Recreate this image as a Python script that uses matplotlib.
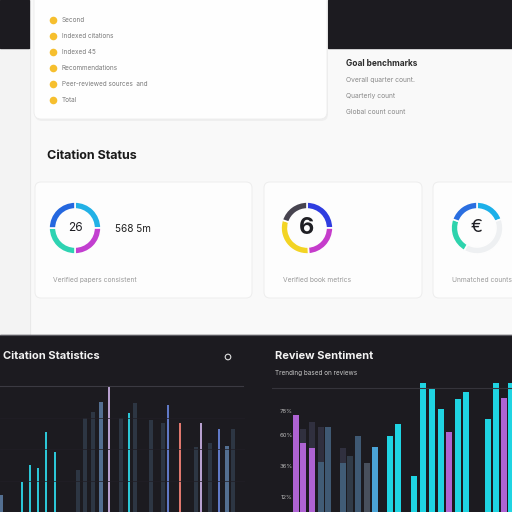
import matplotlib
matplotlib.use("Agg")
import matplotlib.pyplot as plt
from matplotlib.patches import FancyBboxPatch, Rectangle, Circle

plt.rcParams['font.family'] = ['Inter', 'DejaVu Sans']

# ---------------- data ----------------
top_items = ["Second", "Indexed citations", "Indexed 45", "Recommendations",
             "Peer-reviewed sources  and", "Total"]
goal_title = "Goal benchmarks"
goal_lines = ["Overall quarter count.", "Quarterly count", "Global count count"]

section_title = "Citation Status"

donut1_vals = [25, 25, 25, 25]
donut1_cols = ["#22b1e6", "#c23fd0", "#2ed3b2", "#2467df"]
donut1_center = "26"
donut1_side = "568 5m"
donut1_caption = "Verified papers consistent"

donut2_vals = [25, 24, 31, 20]
donut2_cols = ["#2f3de0", "#c53ccb", "#f3d424", "#47444f"]
donut2_center = "6"
donut2_caption = "Verified book metrics"

donut3_vals = [19.4, 38.9, 22.2, 19.5]
donut3_cols = ["#1cb0e9", "#eef0f2", "#2ed3ad", "#2a6ee0"]
donut3_center = "€"
donut3_caption = "Unmatched counts"

left_title = "Citation Statistics"
left_x = [1, 22, 30, 38, 46, 55, 78, 85, 93, 101, 109, 121, 129, 135, 151,
          163, 168, 180, 196, 201, 210, 219, 227, 233]
left_h = [13.5, 24, 37, 35, 63.5, 47.6, 33, 74.6, 79, 87, 100.8, 74.6, 78.6,
          86.5, 73, 70.6, 85, 70.6, 51.6, 70.6, 54.8, 65.9, 52, 66]
left_kind = ["steel", "cyan", "cyan", "cyan", "cyan", "cyan", "faint", "faint",
             "faint", "steel", "lav", "faint", "cyan", "faint", "faint", "faint",
             "blue", "salmon", "faint", "lav", "faint", "blue", "steel", "faint"]

right_title = "Review Sentiment"
right_sub = "Trending based on reviews"
right_x = [296, 303, 312, 321, 328, 343, 350, 358, 367, 375, 390, 398, 414,
           423, 432, 441, 449, 458, 466, 488, 496, 504, 511]
right_h = [75.2, 53.5, 49.6, 38.8, 65.9, 38, 43.4, 59, 38, 50.4, 59, 68.2,
           27.9, 100, 95.3, 79.8, 62, 87.6, 93, 72, 100, 88.4, 100]
right_kind = ["purple", "purple", "purple", "steel", "steel", "steel", "faint",
              "steel", "gray", "lblue", "cyan", "cyan", "cyan", "cyan", "cyan",
              "cyan", "purple", "cyan", "cyan", "cyan", "cyan", "purple", "cyan"]
ghost_x = [303, 312, 321, 343]
ghost_h = [64.3, 69.8, 66, 50]
right_ticks = [78, 60, 36, 12]

# ---------------- figure ----------------
W = H = 512
fig = plt.figure(figsize=(5.12, 5.12), dpi=100)
fig.patch.set_facecolor("#f9f9f9")
bg = fig.add_axes([0, 0, 1, 1])
bg.set_xlim(0, W)
bg.set_ylim(H, 0)
bg.axis("off")

DARK = "#1c1b20"
# top dark bands
bg.add_patch(Rectangle((0, 0), 29, 48, color=DARK, zorder=1))
bg.add_patch(Rectangle((328, 0), 184, 48, color=DARK, zorder=1))
# left light strip
bg.add_patch(Rectangle((0, 48), 30, 287, color="#f3f3f3", zorder=0.5))
bg.plot([30, 30], [48, 335], color="#e8e8e8", lw=0.6, zorder=0.6)

# top card (with shadow)
bg.add_patch(FancyBboxPatch((35, -10), 293, 131, boxstyle="round,pad=0,rounding_size=7",
                            fc="#e9e9e9", ec="none", zorder=1.5, alpha=0.6))
bg.add_patch(FancyBboxPatch((34, -12), 293, 131, boxstyle="round,pad=0,rounding_size=7",
                            fc="#fefefe", ec="#ececec", lw=0.6, zorder=2))
for i, lab in enumerate(top_items):
    yy = 20 + i * 16
    bg.scatter([53], [yy], s=30, color="#f6bf2e", zorder=3, linewidths=0)
    bg.text(62, yy, lab, fontsize=4.6, color="#7a7a7a", va="center", ha="left", zorder=3)

bg.text(346, 63, goal_title, fontsize=6, color="#2b2b2b", fontweight="bold", va="center", zorder=3)
for i, lab in enumerate(goal_lines):
    bg.text(346, 80 + i * 16, lab, fontsize=4.8, color="#8a8a8a", va="center", zorder=3)

bg.text(47, 156, section_title, fontsize=9, color="#1a1a1a", fontweight="bold", va="center", zorder=3)

# cards
for (x0, x1) in [(35, 252), (264, 422), (433, 530)]:
    bg.add_patch(FancyBboxPatch((x0, 182), x1 - x0, 116, boxstyle="round,pad=0,rounding_size=6",
                                fc="#fdfdfd", ec="#ededed", lw=0.7, zorder=2))
bg.text(115, 229, donut1_side, fontsize=7.2, color="#222222", va="center", zorder=3)
bg.text(53, 280, donut1_caption, fontsize=4.8, color="#9a9a9a", va="center", zorder=3)
bg.text(283, 280, donut2_caption, fontsize=4.8, color="#9a9a9a", va="center", zorder=3)
bg.text(452, 280, donut3_caption, fontsize=4.8, color="#9a9a9a", va="center", zorder=3)

# bottom dark region
bg.add_patch(Rectangle((0, 335), 512, 177, color=DARK, zorder=1))
bg.plot([0, 512], [335, 335], color="#5a5960", lw=0.8, zorder=1.2)
bg.text(3, 356, left_title, fontsize=8, color="#f2f2f2", fontweight="bold",
        va="center", ha="left", zorder=3)
bg.add_patch(Circle((228, 357), 2.8, fc="none", ec="#dddddd", lw=0.8, zorder=3))
bg.text(275, 356, right_title, fontsize=8, color="#f2f2f2", fontweight="bold", va="center", zorder=3)
bg.text(275, 373, right_sub, fontsize=4.6, color="#c8c8c8", va="center", zorder=3)


def px_axes(x0, y0, x1, y1):
    """axes occupying pixel box (x0,y0)-(x1,y1), y measured from top"""
    return fig.add_axes([x0 / W, (H - y1) / H, (x1 - x0) / W, (y1 - y0) / H])


def donut(cx, cy, r, vals, cols, center, csize, cweight="normal"):
    ax = px_axes(cx - r, cy - r, cx + r, cy + r)
    ax.pie(vals, colors=cols, startangle=90, counterclock=False, radius=1,
           wedgeprops=dict(width=0.27, edgecolor="#fdfdfd", linewidth=1.2))
    ax.set_xlim(-1, 1)
    ax.set_ylim(-1, 1)
    ax.text(0, 0, center, ha="center", va="center", fontsize=csize,
            color="#1f1f24", fontweight=cweight)
    return ax


donut(75, 228, 26, donut1_vals, donut1_cols, donut1_center, 8.5)
donut(307, 228, 26, donut2_vals, donut2_cols, donut2_center, 17, "bold")
donut(477, 228, 26, donut3_vals, donut3_cols, donut3_center, 13)

# left bar chart
cmap_left = {"cyan": ("#2cc6d6", 1.0), "faint": ("#3e5266", 0.5), "steel": ("#5d7fa6", 0.85),
             "lav": ("#b7a0cf", 1.0), "blue": ("#6079c6", 1.0), "salmon": ("#e0786e", 1.0)}
axl = px_axes(0, 386, 245, 512)
axl.set_xlim(0, 245)
axl.set_ylim(0, 100)
axl.axis("off")
axl.axhline(100, xmin=0, xmax=243 / 245, color="#3b3a42", lw=0.8, clip_on=False)
for gy in [75, 50, 25]:
    axl.axhline(gy, color="#211f26", lw=0.5)
for x, h, k in zip(left_x, left_h, left_kind):
    c, a = cmap_left[k]
    w = 4 if k in ("faint", "steel") else 2.8
    axl.bar(x, h, width=w, color=c, alpha=a, linewidth=0)

# right bar chart
cmap_right = {"purple": ("#ae63d3", 1.0), "steel": ("#44617d", 0.9), "faint": ("#3a4a5a", 0.7),
              "gray": ("#4d5664", 0.9), "lblue": ("#4aa3d6", 1.0), "cyan": ("#1fd4e2", 1.0)}
axr = px_axes(272, 383, 512, 512)
axr.set_xlim(272, 512)
axr.set_ylim(0, 100)
axr.set_facecolor("none")
for s in axr.spines.values():
    s.set_visible(False)
axr.set_xticks([])
axr.set_yticks(right_ticks)
axr.set_yticklabels([f"{t}%" for t in right_ticks], fontsize=4.3, color="#b5b5b5")
axr.tick_params(axis="y", length=0, pad=-15)
axr.axhline(96, color="#35343b", lw=0.8)
axr.bar(ghost_x, ghost_h, width=6, color="#4a4a66", alpha=0.45, linewidth=0)
for x, h, k in zip(right_x, right_h, right_kind):
    c, a = cmap_right[k]
    axr.bar(x, h, width=6, color=c, alpha=a, linewidth=0)

fig.savefig("out.png", dpi=100, facecolor=fig.get_facecolor())
